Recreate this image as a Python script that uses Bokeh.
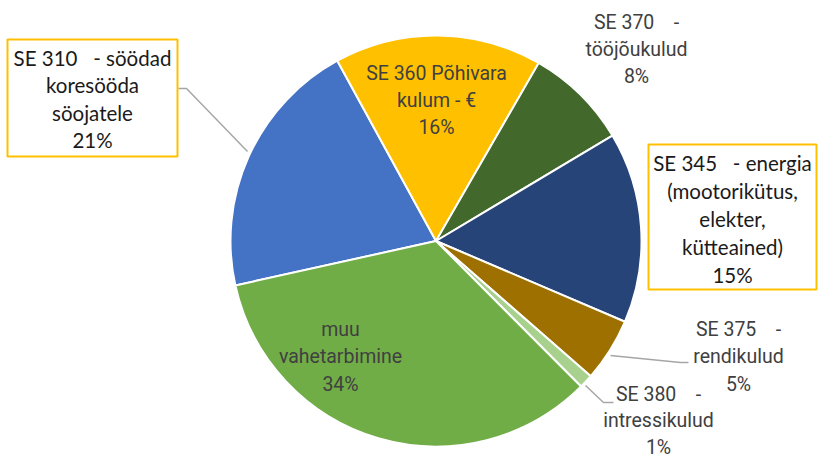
import numpy as np
from bokeh.plotting import figure
from bokeh.models import Range1d, ColumnDataSource
from bokeh.embed import file_html
from bokeh.resources import INLINE
from bokeh.core.properties import value

# ---- data ----
categories = ["SE 310 - söödad koresööda söojatele", "SE 360 Põhivara kulum - €",
              "SE 370 - tööjõukulud", "SE 345 - energia (mootorikütus, elekter, kütteained)",
              "SE 375 - rendikulud", "SE 380 - intressikulud", "muu vahetarbimine"]
shares = [20.5, 16.3, 8.1, 15.0, 5.0, 1.1, 34.0]
pct_labels = ["21%", "16%", "8%", "15%", "5%", "1%", "34%"]
label_lines = [["SE 310\u00a0\u00a0 - söödad", "koresööda", "söojatele"],
               ["SE 360\u00a0Põhivara", "kulum - €"],
               ["SE 370\u00a0\u00a0\u00a0 -", "tööjõukulud"],
               ["SE 345\u00a0\u00a0 - energia", "(mootorikütus,", "elekter,", "kütteained)"],
               ["SE 375\u00a0\u00a0\u00a0 -", "rendikulud"],
               ["SE 380\u00a0\u00a0\u00a0 -", "intressikulud"],
               ["muu", "vahetarbimine"]]
colors = ["#4472C4", "#FFC000", "#43682B", "#264478", "#9E7000", "#A9D18E", "#70AD47"]
first_slice_angle = 257.5  # degrees clockwise from 12 o'clock

# ---- layout (page pixels) ----
W, H = 818, 459
def Y(sy):
    return H - sy

cx, cy, R = 435.5, 240.5, 205.5
# label anchor: center x, first line y (page px), line spacing, boxed?
label_pos = [(92, 57, 27.6, True),
             (436, 72.5, 27.3, False),
             (636, 21.5, 27.3, False),
             (732, 162, 28.0, True),
             (738, 329, 27.3, False),
             (658, 393.5, 26.5, False),
             (340, 328.5, 27.6, False)]
boxes = {0: (6, 38, 178, 157), 3: (647, 143, 817, 290)}
leaders = {0: [(178, 88), (186, 88), (247, 151)],
           4: [(610, 355), (680, 362), (688, 362)],
           5: [(585, 385), (603, 402), (613, 402)]}

p = figure(width=W, height=H, output_backend="svg", toolbar_location=None,
           x_range=Range1d(0, W), y_range=Range1d(0, H),
           min_border=0, match_aspect=False)
p.axis.visible = False
p.grid.visible = False
p.outline_line_color = None
p.background_fill_color = "white"
p.border_fill_color = "white"

vals = np.array(shares, dtype=float)
frac = vals / vals.sum()
cum = np.concatenate([[0], np.cumsum(frac)])
theta_s = first_slice_angle + 360 * cum[:-1]
theta_e = first_slice_angle + 360 * cum[1:]
src = ColumnDataSource(dict(
    x=[cx] * len(vals), y=[Y(cy)] * len(vals),
    start=np.radians(90 - theta_s), end=np.radians(90 - theta_e),
    color=colors, cat=categories))
p.wedge(x="x", y="y", radius=R, radius_units="screen", start_angle="start", end_angle="end",
        direction="clock", fill_color="color", line_color="white", line_width=2, source=src)

# leader lines
for i, pts in leaders.items():
    p.line([q[0] for q in pts], [Y(q[1]) for q in pts], line_color="#A6A6A6", line_width=1.5)

# boxes
for i, (x0, y0, x1, y1) in boxes.items():
    p.quad(left=x0 + 1, right=x1 - 1, top=Y(y0 + 1), bottom=Y(y1 - 1),
           fill_color="white", line_color="#FFC000", line_width=2)

# labels
for i, (lx, ly, sp, boxed) in enumerate(label_pos):
    lines = label_lines[i] + [pct_labels[i]]
    xs = [lx] * len(lines)
    ys = [Y(ly + k * sp) for k in range(len(lines))]
    if boxed:
        p.text(xs, ys, text=lines, text_align="center", text_baseline="alphabetic",
               text_font=value("Lato"), text_font_size="20.5px", text_color="#1a1a1a")
    else:
        p.text(xs, ys, text=lines, text_align="center", text_baseline="alphabetic",
               text_font=value("Roboto"), text_font_size="19.5px", text_color="#404040")

open("out.html", "w").write(file_html(p, INLINE))
